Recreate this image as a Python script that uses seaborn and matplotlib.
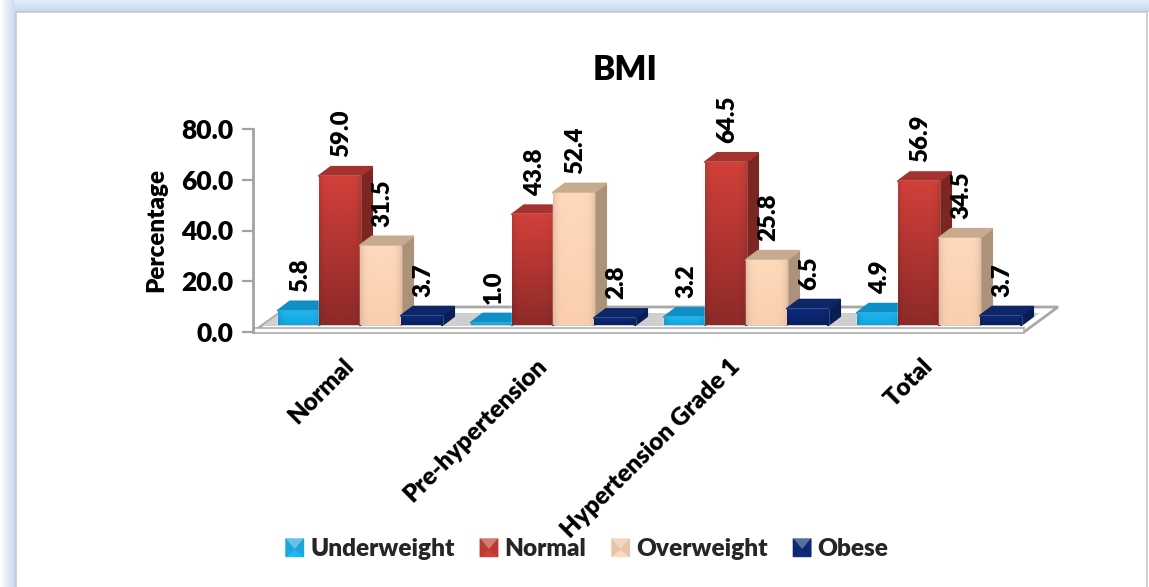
import numpy as np
import pandas as pd
import matplotlib
matplotlib.use("Agg")
import matplotlib.pyplot as plt
import seaborn as sns
from matplotlib.colors import to_rgb
from matplotlib.legend_handler import HandlerBase
from matplotlib.patches import Polygon, Rectangle
from matplotlib.transforms import IdentityTransform, ScaledTranslation

categories = ["Normal", "Pre-hypertension", "Hypertension Grade 1", "Total"]
series_names = ["Underweight", "Normal", "Overweight", "Obese"]
underweight = [5.8, 1.0, 3.2, 4.9]
normal = [59.0, 43.8, 64.5, 56.9]
overweight = [31.5, 52.4, 25.8, 34.5]
obese = [3.7, 2.8, 6.5, 3.7]
y_ticks = [0, 20, 40, 60, 80]

W, H = 1149, 587
DEPTH_X, DEPTH_Y = 12, 9
WEIGHT = 800

# front colour (top, bottom), side and top face per series
face_top = ["#20B8F2", "#D2403A", "#FFD9BC", "#0D2C80"]
face_bottom = ["#12A6E2", "#8E2A28", "#FBCFAE", "#08205F"]
side_col = ["#0A7FB2", "#7C2622", "#AC9278", "#0A1E56"]
top_col = ["#0E90C6", "#A5322E", "#C8AB8E", "#0E2668"]

sns.set_theme(style="white")
plt.rcParams["font.family"] = ["Lato", "DejaVu Sans"]

frame = pd.DataFrame(
    {"category": categories, "Underweight": underweight, "Normal": normal,
     "Overweight": overweight, "Obese": obese}
).melt(id_vars="category", var_name="bmi", value_name="percent")

fig = plt.figure(figsize=(W / 100, H / 100), dpi=100)


def box(left, right, top, bottom):
    return [left / W, 1 - bottom / H, (right - left) / W, (bottom - top) / H]


def px(x, y):
    return (x, H - y)


# slide background: blue border fading outwards around a white panel
bg = fig.add_axes([0, 0, 1, 1], zorder=0)
bg.axis("off")
blue = np.array(to_rgb("#C5D8EF"))
white = np.ones(3)
t = np.linspace(0, 1, 16)[:, None]
left_band = (white * (1 - t) + blue * t)[None, :, :]
bg.imshow(left_band, extent=(0, 16, H, 0), aspect="auto", zorder=1)
t = np.linspace(0, 1, 12)[:, None]
top_band = (np.array(to_rgb("#E3ECF7")) * (1 - t) + blue * t)[:, None, :]
bg.imshow(top_band, extent=(14, W, 12, 0), aspect="auto", zorder=1)
bg.add_patch(Rectangle((16, 12), W - 18, H, fc="white", ec="#C4C8CE", lw=1.2, zorder=2))
bg.set_xlim(0, W)
bg.set_ylim(H, 0)

# value axis, drawn on the front edge of the floor
ax = fig.add_axes(box(252.5, 1024, 129.3, 331.7), zorder=1, facecolor="none")
ax.set_ylim(0, 80)
ax.set_xticks([])
ax.set_yticks(y_ticks, [f"{v:.1f}" for v in y_ticks], fontsize=19, fontweight=WEIGHT, color="black")
ax.tick_params(axis="y", length=8, width=1.6, color="#A3A3A3", pad=6, left=True)
for name, spine in ax.spines.items():
    spine.set_visible(name == "left")
ax.spines["left"].set_color("#A3A3A3")
ax.spines["left"].set_linewidth(2)
ax.set_ylabel("Percentage", fontsize=17.4, fontweight=WEIGHT, color="black")
ax.yaxis.set_label_coords((167 - 252.5) / 771.5, 0.5)

# floor in perspective
floor = [px(253, 332), px(1024, 332), px(1058, 307), px(288, 307)]
ax.add_patch(Polygon(floor, closed=True, fc="white", ec="#A8A8A8", lw=2,
                     transform=IdentityTransform(), clip_on=False, zorder=1))
strip = [px(262, 326), px(1022, 326), px(1040, 313), px(280, 313)]
ax.add_patch(Polygon(strip, closed=True, fc="#CFCFCF", ec="none",
                     transform=IdentityTransform(), clip_on=False, zorder=1.1))
ax.add_patch(Rectangle(px(253, 333), 771, 5, fc="#FAFAFA", ec="#B0B0B0", lw=1.2,
                       transform=IdentityTransform(), clip_on=False, zorder=1.2))

# bars sit slightly above the axis zero, on the floor
bars_ax = fig.add_axes(box(252, 1024, 122.8, 325.2), zorder=2, facecolor="none")
sns.barplot(
    data=frame, x="category", y="percent", hue="bmi", order=categories,
    hue_order=series_names, palette=face_top, saturation=1, width=0.85, gap=0,
    errorbar=None, ax=bars_ax,
)
bars_ax.set_xlim((252 - 360) / 193, (1024 - 360) / 193)
bars_ax.set_ylim(0, 80)
bars_ax.set_xlabel("")
bars_ax.set_ylabel("")
bars_ax.set_yticks([])
for spine in bars_ax.spines.values():
    spine.set_visible(False)
bars_ax.set_xticks(range(len(categories)))
bars_ax.set_xticklabels(categories, rotation=45, ha="right", va="center", rotation_mode="anchor",
                        fontsize=17.6, fontweight=WEIGHT, color="black")
bars_ax.tick_params(axis="x", length=0, pad=27)
nudge = ScaledTranslation(-7 / 72, 0, fig.dpi_scale_trans)
for label in bars_ax.get_xticklabels():
    label.set_transform(label.get_transform() + nudge)

fig.canvas.draw()
to_pixels = bars_ax.transData.transform
items = []
for s, container in enumerate(bars_ax.containers):
    for patch in container:
        items.append((patch.get_x(), s, patch))
items.sort(key=lambda entry: entry[0])

for order, (_, s, patch) in enumerate(items):
    z = 3 + order
    x0, y0 = patch.get_x(), patch.get_y()
    x1, y1 = x0 + patch.get_width(), y0 + patch.get_height()
    (px0, py0), (px1, py1) = to_pixels((x0, y0)), to_pixels((x1, y1))
    side = [(px1, py0), (px1 + DEPTH_X, py0 + DEPTH_Y), (px1 + DEPTH_X, py1 + DEPTH_Y), (px1, py1)]
    top = [(px0, py1), (px1, py1), (px1 + DEPTH_X, py1 + DEPTH_Y), (px0 + DEPTH_X, py1 + DEPTH_Y)]
    bars_ax.add_patch(Polygon(side, closed=True, fc=side_col[s], ec=side_col[s], lw=1.5,
                              joinstyle="round", transform=IdentityTransform(), clip_on=False, zorder=z))
    bars_ax.add_patch(Polygon(top, closed=True, fc=top_col[s], ec=top_col[s], lw=1.5,
                              joinstyle="round", transform=IdentityTransform(), clip_on=False, zorder=z))
    # vertical colour ramp on the front face, slightly darker towards its edges
    ramp = np.linspace(0, 1, 64)[:, None]
    c0, c1 = np.array(to_rgb(face_top[s])), np.array(to_rgb(face_bottom[s]))
    column = c0 * (1 - ramp) + c1 * ramp
    edge = 1 - 0.10 * np.abs(np.linspace(-1, 1, 24)) ** 6
    image = column[:, None, :] * edge[None, :, None]
    img = bars_ax.imshow(image, extent=(x0, x1, y0, y1), origin="upper", aspect="auto",
                         zorder=z + 0.5)
    patch.set_zorder(z + 0.4)
    img.set_clip_path(Rectangle((x0, y0), x1 - x0, y1 - y0, transform=bars_ax.transData))

bars_ax.set_xlim((252 - 360) / 193, (1024 - 360) / 193)
bars_ax.set_ylim(0, 80)

for container in bars_ax.containers:
    for text in bars_ax.bar_label(container, fmt="%.1f", rotation=90, padding=13.5,
                                  fontsize=17.3, fontweight=WEIGHT, color="black"):
        text.xyann = (1.5, 13.5)
        text.set_zorder(50)


class BevelHandler(HandlerBase):
    """Legend swatch shaped like a small bevelled key."""

    def create_artists(self, legend, orig, xd, yd, width, height, fontsize, trans):
        colour = np.array(to_rgb(orig.get_facecolor()))
        x0, y0 = -xd, -yd - 0.5
        size = 13
        cx, cy = x0 + size / 2, y0 + size * 0.4
        lo = (x0, y0)
        lr = (x0 + size, y0)
        ur = (x0 + size, y0 + size)
        ul = (x0, y0 + size)
        mid = (cx, cy)
        faces = [([lo, lr, ur, ul], colour),
                 ([ul, ur, mid], 0.6 * colour + 0.4 * np.array([0.82, 0.82, 0.82])),
                 ([lo, ul, mid], colour * 0.9),
                 ([lr, ur, mid], colour * 0.9)]
        return [Polygon(pts, closed=True, fc=col, ec=col, lw=0.3, transform=trans)
                for pts, col in faces]


handles, labels = bars_ax.get_legend_handles_labels()
bars_ax.legend(
    handles, labels, ncols=4, frameon=False, loc="center",
    bbox_to_anchor=(587 / W, 1 - 549 / H), bbox_transform=fig.transFigure,
    prop={"size": 17.6, "weight": WEIGHT}, handlelength=0.75, handletextpad=0.25,
    columnspacing=1.04, handler_map={Rectangle: BevelHandler()},
).set_zorder(60)

fig.text(625 / W, 1 - 70 / H, "BMI", fontsize=24, fontweight=WEIGHT, color="black",
         ha="center", va="center")

fig.savefig("out.png", dpi=100)
